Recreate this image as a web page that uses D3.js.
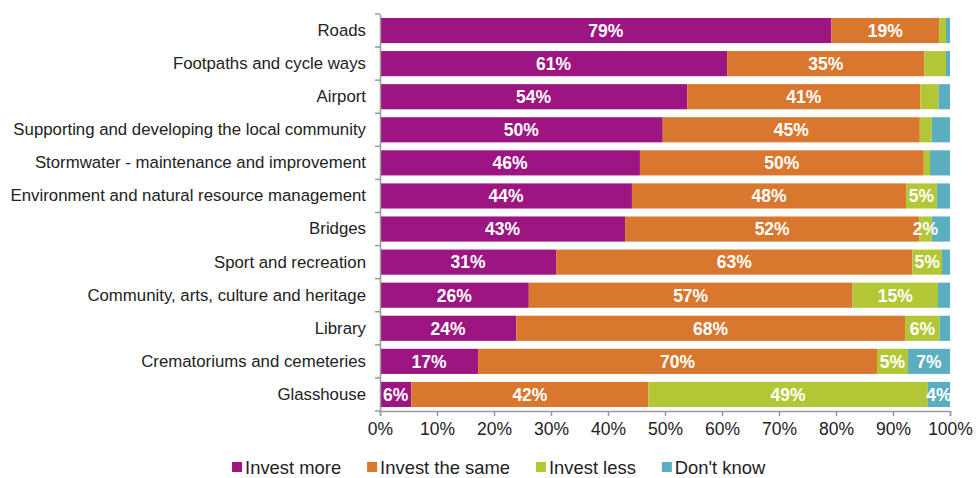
<!DOCTYPE html>
<html>
<head>
<meta charset="utf-8">
<script src="https://cdn.jsdelivr.net/npm/d3@7"></script>
<style>
  html, body { margin: 0; padding: 0; background: #fff; }
  svg { display: block; font-family: "Liberation Sans", Arial, sans-serif; }
</style>
</head>
<body>
<svg id="chart" width="977" height="478"></svg>
<script>
// Services, top to bottom
const categories = [
  "Roads",
  "Footpaths and cycle ways",
  "Airport",
  "Supporting and developing the local community",
  "Stormwater - maintenance and improvement",
  "Environment and natural resource management",
  "Bridges",
  "Sport and recreation",
  "Community, arts, culture and heritage",
  "Library",
  "Crematoriums and cemeteries",
  "Glasshouse"
];

// Share of respondents (%) per answer
const investMore = [79.2, 60.9, 53.9, 49.6, 45.6, 44.2, 43.0, 30.9, 26.1, 23.9, 17.2, 5.5];
const investSame = [18.9, 34.6, 40.9, 45.1, 49.8, 48.1, 51.6, 62.5, 56.8, 68.2, 70.0, 41.6];
const investLess = [1.2, 3.8, 3.2, 2.1, 1.1, 5.4, 2.2, 5.2, 15.0, 6.1, 5.4, 49.0];
const dontKnow   = [0.7, 0.7, 2.0, 3.2, 3.5, 2.3, 3.2, 1.4, 2.1, 1.8, 7.4, 3.9];

// Which segments carry a value label (1 = labelled)
const showMore = [1,1,1,1,1,1,1,1,1,1,1,1];
const showSame = [1,1,1,1,1,1,1,1,1,1,1,1];
const showLess = [0,0,0,0,0,1,1,1,1,1,1,1];
const showDk   = [0,0,0,0,0,0,0,0,0,0,1,1];

const seriesNames = ["Invest more", "Invest the same", "Invest less", "Don't know"];
const seriesColors = ["#9c1580", "#d9772f", "#b3c736", "#5baec0"];
const tickValues = [0, 10, 20, 30, 40, 50, 60, 70, 80, 90, 100];

const seriesValues = [investMore, investSame, investLess, dontKnow];
const seriesShow = [showMore, showSame, showLess, showDk];

const rows = categories.map((c, i) => {
  const r = { category: c };
  seriesNames.forEach((s, k) => { r[s] = seriesValues[k][i]; });
  return r;
});

const svg = d3.select("#chart");
const margin = { top: 14, right: 27, bottom: 67, left: 380 };
const width = 977 - margin.left - margin.right;
const height = 478 - margin.top - margin.bottom;

const g = svg.append("g").attr("transform", `translate(${margin.left},${margin.top})`);

const x = d3.scaleLinear().domain([0, 100]).range([0, width]);
const y = d3.scaleBand().domain(categories).range([0, height]).paddingInner(0.24).paddingOuter(0.12);

const stacked = d3.stack().keys(seriesNames)(rows);

const layers = g.selectAll("g.layer")
  .data(stacked)
  .join("g")
  .attr("class", "layer")
  .attr("fill", (d, k) => seriesColors[k]);

layers.selectAll("rect")
  .data(d => d)
  .join("rect")
  .attr("x", d => x(d[0]))
  .attr("width", d => x(d[1]) - x(d[0]))
  .attr("y", d => y(d.data.category))
  .attr("height", y.bandwidth());

// Value labels
stacked.forEach((layer, k) => {
  g.append("g")
    .selectAll("text")
    .data(layer.filter((d, i) => seriesShow[k][i]))
    .join("text")
    .attr("x", d => (x(d[0]) + x(d[1])) / 2)
    .attr("y", d => y(d.data.category) + y.bandwidth() / 2)
    .attr("dy", "0.36em")
    .attr("text-anchor", "middle")
    .attr("fill", "#fff")
    .attr("font-weight", "bold")
    .attr("font-size", 17.5)
    .text(d => Math.round(d[1] - d[0]) + "%");
});

// Category axis
const yAxis = g.append("g")
  .call(d3.axisLeft(y).tickSize(0).tickPadding(14));
yAxis.select(".domain").attr("stroke", "#999").attr("stroke-width", 1.5);
yAxis.selectAll("text").attr("font-size", 16.8).attr("fill", "#222");

// Tick marks between categories on the category axis
g.append("g")
  .selectAll("line")
  .data(d3.range(categories.length + 1))
  .join("line")
  .attr("x1", -5).attr("x2", 0)
  .attr("y1", i => i * (height / categories.length))
  .attr("y2", i => i * (height / categories.length))
  .attr("stroke", "#999")
  .attr("stroke-width", 1.5);

// Percentage axis
const xAxis = g.append("g")
  .attr("transform", `translate(0,${height})`)
  .call(d3.axisBottom(x).tickValues(tickValues).tickFormat(d => d + "%").tickSize(5).tickPadding(7));
xAxis.select(".domain").attr("stroke", "#999").attr("stroke-width", 1.5);
xAxis.selectAll(".tick line").attr("stroke", "#999").attr("stroke-width", 1.5);
xAxis.selectAll("text").attr("font-size", 17.5).attr("fill", "#222");

// Legend, laid out left to right
const legendFont = 18.4;
const legendGap = 26;
const legendCentre = 499;
const legend = svg.append("g").attr("transform", "translate(0,467)");
const items = legend.selectAll("g.item")
  .data(seriesNames)
  .join("g")
  .attr("class", "item");
items.append("rect").attr("x", 0).attr("y", -5).attr("width", 10).attr("height", 10)
  .attr("fill", (d, k) => seriesColors[k]);
items.append("text").attr("x", 13).attr("dy", "0.36em")
  .attr("font-size", legendFont).attr("fill", "#222").text(d => d);
let cursor = 0;
const offsets = [];
items.each(function () {
  offsets.push(cursor);
  cursor += this.getBBox().width + legendGap;
});
const start = legendCentre - (cursor - legendGap) / 2;
items.attr("transform", (d, k) => `translate(${start + offsets[k]},0)`);
</script>
</body>
</html>
